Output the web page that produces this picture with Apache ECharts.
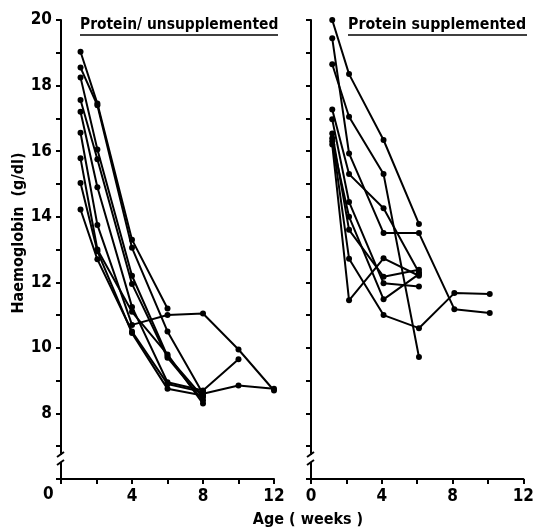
<!DOCTYPE html>
<html>
<head>
<meta charset="utf-8">
<script src="https://cdn.jsdelivr.net/npm/echarts@6/dist/echarts.min.js"></script>
<style>html,body{margin:0;padding:0;background:#fff;}#c{width:537px;height:529px;}</style>
</head>
<body>
<div id="c"></div>
<script>
// ---- data ----
const panelTitles = ['Protein/ unsupplemented', 'Protein supplemented'];
const yAxisName = 'Haemoglobin  (g/dl)';
const xAxisName = 'Age ( weeks )';
const xTickLabels = [0, 4, 8, 12];
const yTickLabels = [8, 10, 12, 14, 16, 18, 20];

// Protein unsupplemented: weeks and haemoglobin for each infant
const unsuppWeeks = [
  [1.1, 2.05, 4, 6],
  [1.1, 2.05, 4, 6, 8, 10, 12],
  [1.1, 2.05, 4, 6, 8],
  [1.1, 2.05, 4, 6, 8],
  [1.1, 2.05, 4, 6, 8, 10],
  [1.1, 2.05, 4, 6, 8, 10, 12],
  [1.1, 2.05, 4, 6, 8],
  [1.1, 2.05, 4, 6, 8],
  [1.1, 2.05, 4, 6, 8]
];
const unsuppHb = [
  [19.03, 17.45, 13.3, 11.2],
  [18.55, 17.4, 13.05, 10.5, 8.6, 8.85, 8.75],
  [18.25, 16.05, 12.2, 9.75, 8.5],
  [17.56, 15.75, 11.95, 9.7, 8.4],
  [17.2, 14.9, 11.25, 8.95, 8.7, 9.65],
  [16.56, 13.75, 10.7, 11.0, 11.05, 9.95, 8.7],
  [15.78, 13.0, 11.1, 9.8, 8.3],
  [15.03, 12.95, 10.45, 8.75, 8.55],
  [14.22, 12.7, 10.5, 8.9, 8.65]
];

// Protein supplemented
const suppWeeks = [
  [1.2, 2.15, 4.1, 6.1],
  [1.2, 2.15, 4.1, 6.1],
  [1.2, 2.15, 4.1, 6.1, 8.1, 10.1],
  [1.2, 2.15, 4.1, 6.1],
  [1.2, 2.15, 4.1, 6.1],
  [1.2, 2.15, 4.1, 6.1],
  [1.2, 2.15, 4.1, 6.1, 8.1, 10.1],
  [1.2, 2.15, 4.1, 6.1],
  [1.2, 2.15, 4.1, 6.1]
];
const suppHb = [
  [20.0, 18.35, 16.34, 13.78],
  [18.65, 17.05, 15.3, 9.72],
  [19.44, 15.93, 13.5, 13.5, 11.18, 11.06],
  [17.27, 15.3, 14.26, 12.3],
  [16.97, 14.45, 11.97, 11.87],
  [16.54, 13.6, 12.17, 12.38],
  [16.39, 12.72, 11.0, 10.6, 11.67, 11.64],
  [16.2, 11.45, 12.73, 12.2],
  [16.3, 14.0, 11.48, 12.25]
];

// ---- chart ----
const FONT = "'DejaVu Sans Condensed','DejaVu Sans',sans-serif";
const chart = echarts.init(document.getElementById('c'), null, {renderer: 'canvas'});

function makeX(idx, showZero) {
  return {
    type: 'value', gridIndex: idx, min: 0, max: 12, interval: 2,
    axisLine: {show: true, lineStyle: {color: '#000', width: 2}},
    axisTick: {show: true, length: 5, lineStyle: {color: '#000', width: 2}},
    axisLabel: {
      color: '#000', fontFamily: FONT, fontSize: 17, fontWeight: 'bold', margin: 9,
      formatter: v => (xTickLabels.indexOf(v) >= 0 && (v !== 0 || showZero)) ? String(v) : ''
    },
    splitLine: {show: false}
  };
}
function makeY(idx, showLabels) {
  return {
    type: 'value', gridIndex: idx, min: 6, max: 20, interval: 1,
    axisLine: {show: true, lineStyle: {color: '#000', width: 2}},
    axisTick: {show: true, length: 5, lineStyle: {color: '#000', width: 2}},
    axisLabel: {
      show: showLabels, color: '#000', fontFamily: FONT, fontSize: 17, fontWeight: 'bold', margin: 9,
      formatter: v => yTickLabels.indexOf(v) >= 0 ? String(v) : ''
    },
    splitLine: {show: false}
  };
}

const series = [];
function addSeries(weeks, hb, idx) {
  weeks.forEach((w, i) => {
    series.push({
      type: 'line', xAxisIndex: idx, yAxisIndex: idx,
      data: w.map((x, j) => [x, hb[i][j]]),
      symbol: 'circle', symbolSize: 6,
      itemStyle: {color: '#000'},
      lineStyle: {color: '#000', width: 2},
      silent: true, animation: false
    });
  });
}
addSeries(unsuppWeeks, unsuppHb, 0);
addSeries(suppWeeks, suppHb, 1);

function breakMark(x) {
  return [
    {type: 'rect', shape: {x: x - 6, y: 455, width: 12, height: 7}, style: {fill: '#fff'}, z: 100},
    {type: 'line', shape: {x1: x - 4, y1: 457, x2: x + 3, y2: 452}, style: {stroke: '#000', lineWidth: 2}, z: 101},
    {type: 'line', shape: {x1: x - 4, y1: 465, x2: x + 3, y2: 460}, style: {stroke: '#000', lineWidth: 2}, z: 101}
  ];
}

const option = {
  backgroundColor: '#fff',
  animation: false,
  grid: [
    {left: 61, top: 20, width: 213, height: 459},
    {left: 311, top: 20, width: 215, height: 459}
  ],
  xAxis: [makeX(0, false), makeX(1, true)],
  yAxis: [makeY(0, true), makeY(1, false)],
  series: series,
  graphic: [
    ...breakMark(61), ...breakMark(311),
    {type: 'text', left: 43, top: 486, style: {text: String(xTickLabels[0]), font: 'bold 17px ' + FONT, fill: '#000'}, z: 50},
    {type: 'text', left: 80, top: 17, style: {text: panelTitles[0], font: 'bold 15.4px ' + FONT, fill: '#000'}, z: 50},
    {type: 'line', shape: {x1: 80, y1: 35, x2: 278, y2: 35}, style: {stroke: '#000', lineWidth: 1.5}, z: 50},
    {type: 'text', left: 348, top: 17, style: {text: panelTitles[1], font: 'bold 15.8px ' + FONT, fill: '#000'}, z: 50},
    {type: 'line', shape: {x1: 348, y1: 35, x2: 527, y2: 35}, style: {stroke: '#000', lineWidth: 1.5}, z: 50},
    {type: 'text', x: 19, y: 233, rotation: Math.PI / 2,
      style: {text: yAxisName, font: 'bold 16px ' + FONT, fill: '#000', align: 'center', verticalAlign: 'middle'}, z: 50},
    {type: 'text', x: 308, y: 520,
      style: {text: xAxisName, font: 'bold 16px ' + FONT, fill: '#000', align: 'center', verticalAlign: 'middle'}, z: 50}
  ]
};
chart.setOption(option);
</script>
</body>
</html>
